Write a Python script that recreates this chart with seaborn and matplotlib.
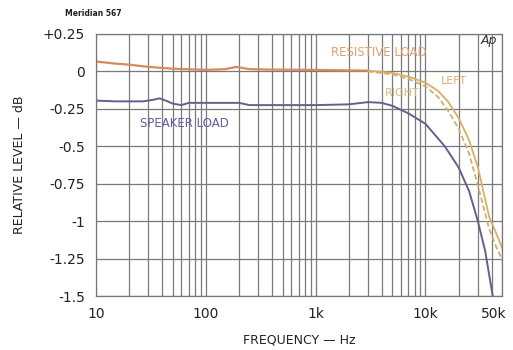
import numpy as np
import pandas as pd
import matplotlib
matplotlib.use("Agg")
import matplotlib.pyplot as plt
import matplotlib.transforms as mtransforms
import seaborn as sns

# Meridian 567 - respuesta en frecuencia
freq_res = [10, 15, 20, 30, 50, 100, 150, 190, 250, 400, 1000, 3000, 5000, 7000,
            10000, 13000, 16000, 20000, 25000, 30000, 38000, 44000, 50000]
left_db = [0.066, 0.052, 0.045, 0.03, 0.018, 0.01, 0.015, 0.03, 0.015, 0.012, 0.01, 0.005,
           -0.01, -0.035, -0.075, -0.13, -0.2, -0.31, -0.46, -0.64, -0.97, -1.08, -1.18]
right_db = [0.066, 0.052, 0.045, 0.03, 0.018, 0.01, 0.015, 0.03, 0.015, 0.012, 0.01, 0.0,
            -0.02, -0.05, -0.1, -0.17, -0.26, -0.38, -0.55, -0.76, -1.05, -1.17, -1.26]

freq_spk = [10, 15, 20, 27, 33, 38, 45, 50, 60, 70, 100, 150, 200, 250, 500, 1000,
            2000, 3000, 4000, 5000, 7000, 10000, 15000, 20000, 25000, 30000, 35000, 41000]
speaker_db = [-0.195, -0.2, -0.2, -0.2, -0.19, -0.18, -0.2, -0.215, -0.225, -0.21, -0.21,
              -0.21, -0.21, -0.225, -0.225, -0.225, -0.22, -0.205, -0.21, -0.23, -0.28,
              -0.35, -0.5, -0.64, -0.8, -1.0, -1.2, -1.5]

y_ticks = [0.25, 0, -0.25, -0.5, -0.75, -1, -1.25, -1.5]
y_labels = ["+0.25", "0", "-0.25", "-0.5", "-0.75", "-1", "-1.25", "-1.5"]
x_ticks = [10, 100, 1000, 10000, 50000]
x_labels = ["10", "100", "1k", "10k", "50k"]

df_res = pd.DataFrame({"freq": freq_res, "left": left_db, "right": right_db})
df_spk = pd.DataFrame({"freq": freq_spk, "db": speaker_db})

sns.set_style("white")
plt.rcParams["font.family"] = ["DejaVu Sans"]

fig = plt.figure(figsize=(5.13, 3.5), dpi=100)
ax = fig.add_axes([0.187, 0.154, 0.792, 0.749])

# grilla logaritmica
for dec in [10, 100, 1000, 10000]:
    for m in range(1, 10):
        f = dec * m
        if f <= 50000:
            ax.axvline(f, color="#7a7a7a", lw=0.9, zorder=0)
for yv in y_ticks:
    ax.axhline(yv, color="#7a7a7a", lw=0.9, zorder=0)

# curvas
low = df_res[df_res["freq"] <= 3000]
sns.lineplot(data=low, x="freq", y="left", ax=ax, color="#d68a5e", lw=1.6)
high = df_res[df_res["freq"] >= 3000]
sns.lineplot(data=high, x="freq", y="right", ax=ax, color="#c9b07a", lw=1.3,
             linestyle=(0, (3, 1.5)))
sns.lineplot(data=high, x="freq", y="left", ax=ax, color="#d9b060", lw=1.3)
sns.lineplot(data=df_spk, x="freq", y="db", ax=ax, color="#6c5c8e", lw=1.4)

ax.set_xscale("log")
ax.set_xlim(10, 50000)
ax.set_ylim(-1.5, 0.25)
ax.set_xticks(x_ticks)
ax.set_xticklabels(x_labels)
ax.xaxis.set_minor_locator(matplotlib.ticker.NullLocator())
ax.set_yticks(y_ticks)
ax.set_yticklabels(y_labels)
ax.tick_params(length=0, labelsize=10, colors="#222222", pad=8)
# el ultimo rotulo (50k) queda pegado al borde, lo corro un poco
last = ax.get_xticklabels()[-1]
last.set_transform(last.get_transform() + mtransforms.ScaledTranslation(-6 / 72, 0, fig.dpi_scale_trans))
ax.set_xlabel("FREQUENCY — Hz", fontsize=9, color="#222222", va="center")
ax.xaxis.set_label_coords(0.5, -0.168)
ax.set_ylabel("RELATIVE LEVEL — dB", fontsize=9, color="#222222", va="center")
ax.yaxis.set_label_coords(-0.187, 0.5)
for s in ax.spines.values():
    s.set_color("#777777")
    s.set_linewidth(0.9)

# anotaciones
ax.text(3800, 0.126, "RESISTIVE LOAD", color="#e0a070", fontsize=8.5, ha="center", va="center")
ax.text(6200, -0.146, "RIGHT", color="#d4b878", fontsize=8, ha="center", va="center")
ax.text(18000, -0.066, "LEFT", color="#e0b070", fontsize=8, ha="center", va="center")
ax.text(64, -0.35, "SPEAKER LOAD", color="#6a5aa0", fontsize=8.5, ha="center", va="center")
ax.text(38000, 0.205, "Ap", color="#333333", fontsize=9, style="italic", ha="center", va="center")
fig.text(0.127, 0.955, "Meridian 567", fontsize=5.5, fontweight="bold", color="#222222")

fig.savefig("out.png", dpi=100)
